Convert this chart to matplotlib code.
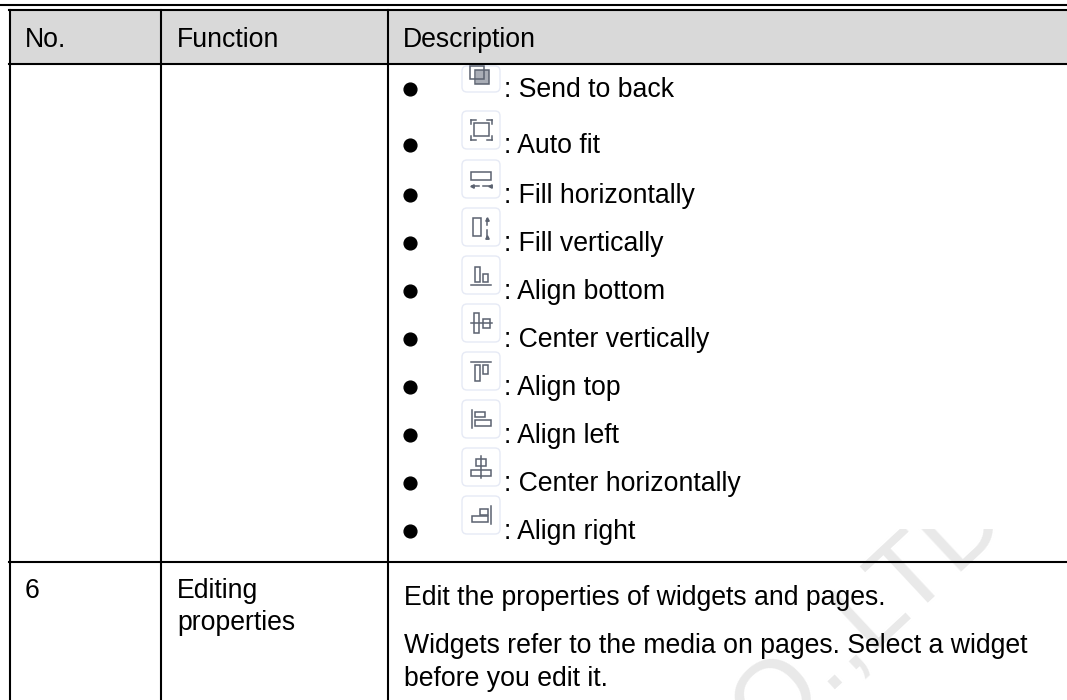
import matplotlib.pyplot as plt
from matplotlib.patches import Rectangle, FancyBboxPatch

headers = ["No.", "Function", "Description"]
header_x = [25, 177, 403]
col_lines = [9.5, 161, 388]

bullet_labels = [": Send to back", ": Auto fit", ": Fill horizontally", ": Fill vertically",
                 ": Align bottom", ": Center vertically", ": Align top", ": Align left",
                 ": Center horizontally", ": Align right"]
bullet_y = [89, 145, 195, 243, 291, 339, 387, 435, 483, 531]
label_base = [97, 153, 203, 251, 299, 347, 395, 443, 491, 539]
box_top = [54, 111, 160, 208, 256, 304, 352, 400, 448, 496]

row_number = "6"
row_function = ["Editing", "properties"]
row_function_base = [598, 630]
row_desc = ["Edit the properties of widgets and pages.",
            "Widgets refer to the media on pages. Select a widget",
            "before you edit it."]
row_desc_base = [605, 653, 686]

# icon drawings inside the 38px box: rects (x0, y0, x1, y1), lines (x0, y0, x1, y1)
icon_shapes = [
    ([(8, 11, 22, 25), (13, 16, 27, 30)], []),
    ([(12, 12, 27, 25)], [(9, 9, 14, 9), (25, 9, 30, 9), (9, 29, 14, 29), (25, 29, 30, 29),
                          (9, 9, 9, 13), (30, 9, 30, 13), (9, 25, 9, 29), (30, 25, 30, 29)]),
    ([(9, 12, 29, 20)], [(10, 26, 17, 26), (21, 26, 28, 26)]),
    ([(11, 10, 19, 28)], [(25, 11, 25, 17), (25, 22, 25, 29)]),
    ([(13, 11, 18, 26), (21, 18, 26, 26)], [(9, 29, 29, 29)]),
    ([(12, 9, 17, 29), (21, 15, 28, 24)], [(9, 19, 30, 19)]),
    ([(13, 13, 18, 29), (21, 13, 26, 22)], [(9, 10, 29, 10)]),
    ([(13, 12, 23, 17), (13, 20, 29, 26)], [(10, 10, 10, 28)]),
    ([(14, 11, 24, 18), (9, 22, 29, 28)], [(19, 8, 19, 30)]),
    ([(18, 13, 26, 19), (10, 20, 26, 26)], [(29, 10, 29, 28)]),
]

plt.rcParams['font.family'] = ['Liberation Sans', 'DejaVu Sans']
fig = plt.figure(figsize=(10.67, 7.0), dpi=100)
ax = fig.add_axes([0, 0, 1, 1])
ax.set_xlim(0, 1067)
ax.set_ylim(700, 0)
ax.axis('off')

# watermark, only shows below y=529
wm = ax.text(1010, 521, "CO.,LTD", fontsize=76, color='#e9e9e9', rotation=43,
             ha='right', va='baseline', rotation_mode='anchor', zorder=0)
wm.set_clip_path(Rectangle((0, 529), 1067, 171, transform=ax.transData))
wm.set_clip_on(True)

ax.add_patch(Rectangle((9, 10), 1058, 53, facecolor='#d9d9d9', edgecolor='none', zorder=1))
ax.plot([0, 1067], [5, 5], color='black', lw=1.5, zorder=3)

# table grid
for x in col_lines:
    ax.plot([x, x], [10, 700], color='black', lw=1.5, zorder=3)
for y in [10, 64, 562]:
    ax.plot([9, 1067], [y, y], color='black', lw=1.5, zorder=3)

fs = 19.2
icon_color = '#5b6270'
for h, x in zip(headers, header_x):
    ax.text(x, 47, h, fontsize=fs, ha='left', va='baseline', color='black', zorder=4)

for i, label in enumerate(bullet_labels):
    top = box_top[i]
    ax.plot([410], [bullet_y[i]], 'o', color='black', ms=9.2, zorder=4)
    cut = max(top, 66)
    ax.add_patch(FancyBboxPatch((462, cut), 38, top + 38 - cut, boxstyle="round,pad=0,rounding_size=5",
                                facecolor='white', edgecolor='#e6eaf5', lw=1.0, zorder=2))
    rects, lines = icon_shapes[i]
    for x0, y0, x1, y1 in rects:
        if top + y0 < cut:
            y0 = cut - top
        ax.add_patch(Rectangle((462 + x0, top + y0), x1 - x0, y1 - y0, facecolor='none',
                               edgecolor=icon_color, lw=1.1, zorder=3))
    for x0, y0, x1, y1 in lines:
        ax.plot([462 + x0, 462 + x1], [top + y0, top + y1], color=icon_color, lw=1.1, zorder=3)
    ax.text(504, label_base[i], label, fontsize=fs, ha='left', va='baseline', color='black', zorder=4)

# send to back icon has a grey shadow
ax.add_patch(Rectangle((476, 70), 13, 14, facecolor='#a9adb6', edgecolor='none', zorder=2.5))

# arrow tips on the two fill icons
ax.plot([472, 490], [186, 186], ls='none', marker='<', ms=2.5, color=icon_color, zorder=3)
ax.plot([487, 487], [219, 237], ls='none', marker='^', ms=2.5, color=icon_color, zorder=3)

ax.text(25, row_function_base[0], row_number, fontsize=fs, ha='left', va='baseline', zorder=4)
for line, y in zip(row_function, row_function_base):
    ax.text(177, y, line, fontsize=fs, ha='left', va='baseline', zorder=4)
for line, y in zip(row_desc, row_desc_base):
    ax.text(404, y, line, fontsize=fs, ha='left', va='baseline', zorder=4)

fig.savefig("out.png", dpi=100)
